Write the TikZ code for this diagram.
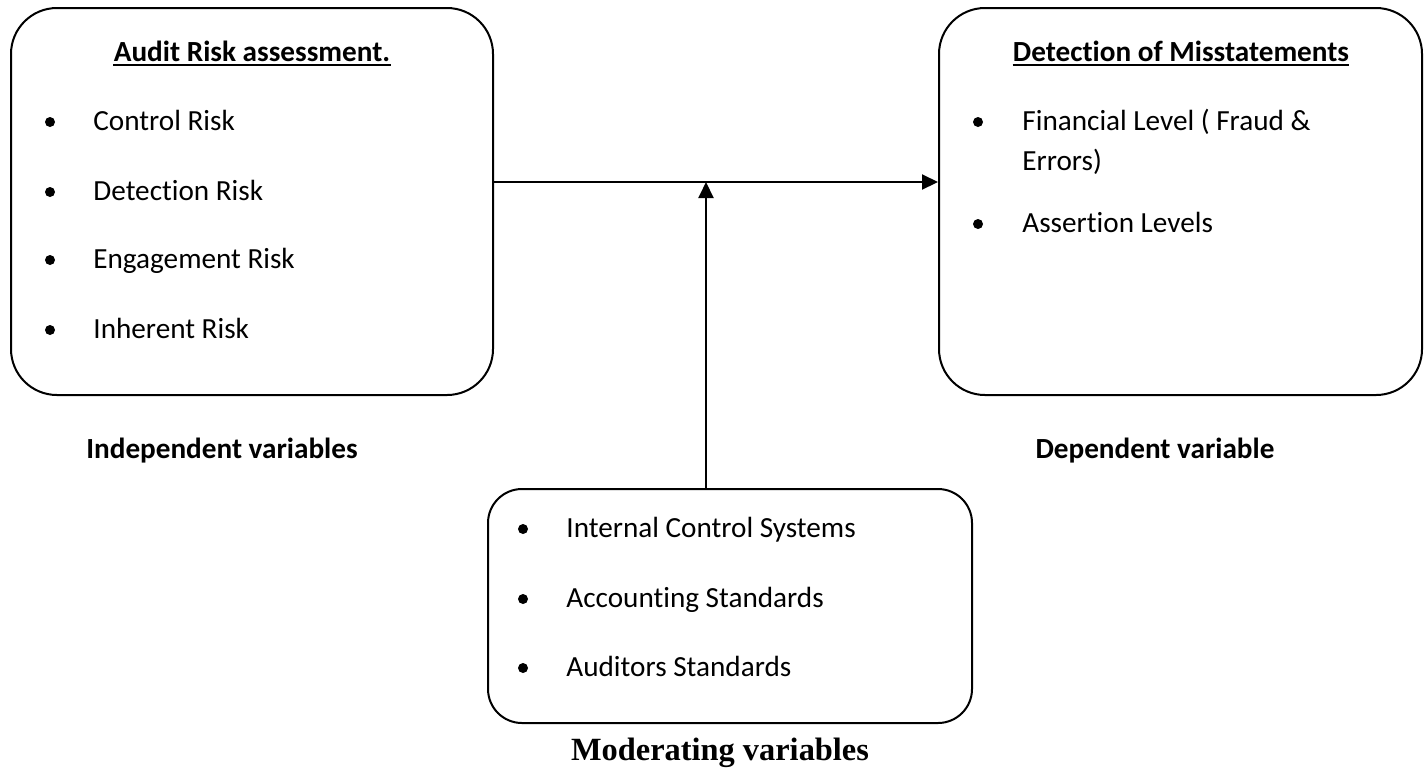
\documentclass[tikz,border=0pt]{standalone}
\usepackage{fontspec}
\setmainfont{Carlito}[Ligatures=NoCommon]
\newfontfamily\serifface{Liberation Serif}
\usetikzlibrary{arrows.meta}

\begin{document}
\begin{tikzpicture}[x=0.5pt,y=-0.5pt,
  bigbox/.style={draw, line width=1pt, rounded corners=23pt, inner sep=0pt},
  smallbox/.style={draw, line width=1pt, rounded corners=17pt, inner sep=0pt},
  txt/.style={inner sep=0pt, font=\fontsize{14.6}{17}\selectfont},
  dot/.style={circle, fill, inner sep=0pt, minimum size=5pt},
  head/.style={txt, font=\fontsize{14.6}{17}\selectfont\bfseries},
  uline/.style={line width=1pt},
  modlabel/.style={inner sep=0pt, font=\fontsize{16.2}{19}\selectfont\serifface\bfseries},
  arr/.style={line width=1pt, -{Triangle[length=8pt,width=7.5pt]}}]

\useasboundingbox (0,0) rectangle (1427,767);

% the three variable boxes
\node[bigbox, minimum width=241pt, minimum height=193.5pt] (indep) at (252,201.5) {};
\node[bigbox, minimum width=241.5pt, minimum height=193.5pt] (dep) at (1180.5,201.5) {};
\node[smallbox, minimum width=242pt, minimum height=117pt] (mod) at (730,606) {};

% independent variables
\node[head, anchor=base] (indeptitle) at (252,61) {Audit Risk assessment.};
\draw[uline] ([yshift=-2.2pt]indeptitle.base west) -- ([yshift=-2.2pt]indeptitle.base east);
\foreach \n/\y/\t in {cr/130/Control Risk, dr/200/Detection Risk,
                      er/268/Engagement Risk, ir/338/Inherent Risk} {
  \node[dot] (\n-dot) at (50,\y-8) {};
  \node[txt, anchor=base west] (\n) at (93,\y) {\t};
}

% dependent variable
\node[head, anchor=base] (deptitle) at (1181,61) {Detection of Misstatements};
\draw[uline] ([yshift=-2.2pt]deptitle.base west) -- ([yshift=-2.2pt]deptitle.base east);
\node[dot] (fl-dot) at (978,122) {};
\node[txt, anchor=base west] (fl) at (1022,130) {Financial Level ( Fraud \&};
\node[txt, anchor=base west] (fl2) at (1022,170) {Errors)};
\node[dot] (al-dot) at (978,224) {};
\node[txt, anchor=base west] (al) at (1022,232) {Assertion Levels};

% moderating variables
\foreach \n/\y/\t in {ics/537/Internal Control Systems, acs/607/Accounting Standards,
                      aus/676/Auditors Standards} {
  \node[dot] (\n-dot) at (523,\y-8) {};
  \node[txt, anchor=base west] (\n) at (566,\y) {\t};
}

% captions
\node[head, anchor=base] (indeplabel) at (222,458) {Independent variables};
\node[head, anchor=base] (deplabel) at (1155,458) {Dependent variable};
\node[modlabel, anchor=base] (modcaption) at (720,760) {Moderating variables};

% connectors
\coordinate (join) at (706,182);
\draw[arr] (indep.east |- join) -- (dep.west |- join);
\draw[arr] (mod.north -| join) -- (join);

\end{tikzpicture}
\end{document}
